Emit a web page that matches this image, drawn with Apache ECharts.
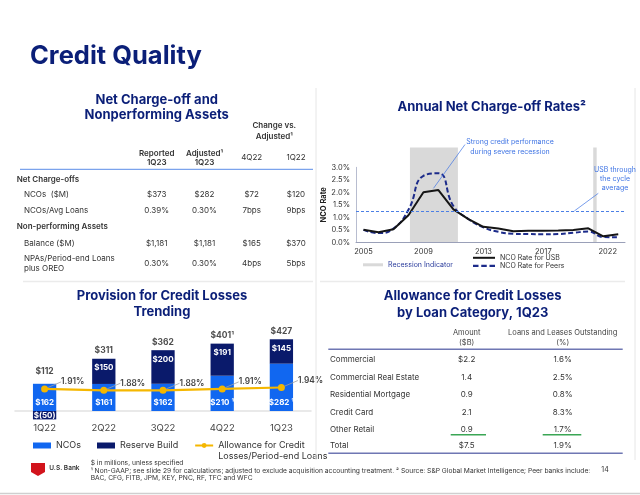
<!DOCTYPE html>
<html><head><meta charset="utf-8">
<script src="https://cdn.jsdelivr.net/npm/echarts@6/dist/echarts.min.js"></script>
<style>html,body{margin:0;padding:0;background:#fff;}#c{width:640px;height:495px;}</style>
</head><body><div id="c"></div>
<script>
// ---------- DATA ----------
// Annual net charge-off rates (%)
const ncoYears = [2005,2006,2007,2008,2009,2010,2011,2012,2013,2014,2015,2016,2017,2018,2019,2020,2021,2022];
const ncoUSB   = [0.50,0.40,0.52,1.08,2.00,2.09,1.32,0.93,0.62,0.55,0.44,0.46,0.46,0.47,0.49,0.56,0.24,0.32];
const ncoPeers = [0.50,0.37,0.55,1.30,2.66,2.76,1.45,0.93,0.60,0.42,0.34,0.33,0.32,0.33,0.38,0.43,0.21,0.20];
const usbCycleAverage = 1.26;
const recessionStart = [2008.1, 2020.33];
const recessionEnd   = [2011.3, 2020.56];
const xTickYears  = [2005, 2009, 2013, 2017, 2021.3];
const xTickLabels = ['2005', '2009', '2013', '2017', '2022'];

// Provision for credit losses ($M)
const quarters       = ['1Q22','2Q22','3Q22','4Q22','1Q23'];
const ncoBars        = [162, 161, 162, 210, 282];
const ncoNotes       = ['', '', '', '¹', '¹'];
const reserveBuild   = [-50, 150, 200, 191, 145];
const provisionTotal = [112, 311, 362, 401, 427];
const totalNotes     = ['', '', '', '¹', ''];
const allowanceRatio = [1.91, 1.88, 1.88, 1.91, 1.94];

// Net charge-off and nonperforming assets table
const ncoTableCols  = ['Reported\n1Q23', 'Adjusted¹\n1Q23', '4Q22', '1Q22'];
const ncoRowLabels  = ['NCOs  ($M)', 'NCOs/Avg Loans', 'Balance ($M)', 'NPAs/Period-end Loans\nplus OREO'];
const colReported   = ['$373', '0.39%', '$1,181', '0.30%'];
const colAdjusted   = ['$282', '0.30%', '$1,181', '0.30%'];
const colChg4Q22    = ['$72', '7bps', '$165', '4bps'];
const colChg1Q22    = ['$120', '9bps', '$370', '5bps'];

// Allowance by loan category table
const loanCategories  = ['Commercial', 'Commercial Real Estate', 'Residential Mortgage', 'Credit Card', 'Other Retail', 'Total'];
const allowanceAmount = ['$2.2', '1.4', '0.9', '2.1', '0.9', '$7.5'];
const allowancePct    = ['1.6%', '2.5%', '0.8%', '8.3%', '1.7%', '1.9%'];

// ---------- STYLE ----------
const FONT = 'Inter';
const NAVY = '#0b1f78';
const TXT = '#333';
const BLUE_BAR = '#1167f0';
const NAVY_BAR = '#0a1a6b';
const GOLD = '#f5b700';
const ANNO = '#3f74e4';

function T(x, y, text, o) {
  o = o || {};
  const st = {
    text: text, fill: o.color || TXT, fontSize: o.size || 8, fontWeight: o.weight || 'normal',
    fontFamily: FONT, align: o.align || 'left', verticalAlign: 'middle',
    textAlign: o.align || 'left', textVerticalAlign: 'middle'
  };
  if (o.lh) st.lineHeight = o.lh;
  return { type: 'text', x: x, y: y, silent: true, z: 10, style: st };
}
function L(x1, y1, x2, y2, color, w) {
  return { type: 'line', silent: true, z: 10, shape: { x1: x1, y1: y1, x2: x2, y2: y2 }, style: { stroke: color, lineWidth: w || 1 } };
}

const g = [];
// frame / separators
g.push(L(316, 88, 316, 460, '#e6e6e6', 1));
g.push(L(635, 88, 635, 460, '#e6e6e6', 1));
g.push(L(23, 281.5, 313, 281.5, '#ebebeb', 1.5));
g.push(L(320, 281.5, 625, 281.5, '#ebebeb', 1.5));
g.push(L(0, 493.5, 640, 493.5, '#cfcfcf', 1.5));

// main title
g.push(T(30, 56.5, 'Credit Quality', { size: 25.5, weight: 'bold', color: NAVY }));

// ---- top-left table ----
g.push(T(156.7, 107.5, 'Net Charge-off and\nNonperforming Assets', { size: 13, weight: 'bold', color: NAVY, align: 'center', lh: 15 }));
g.push(T(274.3, 131.2, 'Change vs.\nAdjusted¹', { size: 8, weight: 600, align: 'center', lh: 11 }));
const colX = [156.7, 204.5, 251.7, 296];
const colW = [600, 600, 'normal', 'normal'];
ncoTableCols.forEach((c, i) => g.push(T(colX[i], 158, c, { size: 8, weight: colW[i], align: 'center', lh: 9.5 })));
g.push(L(20, 169.3, 313, 169.3, '#5b8de8', 1));
g.push(T(16.7, 179.3, 'Net Charge-offs', { size: 8, weight: 600 }));
g.push(T(16.7, 226.7, 'Non-performing Assets', { size: 8, weight: 600 }));
const rowY = [195, 211, 243.3, 264];
const cols = [colReported, colAdjusted, colChg4Q22, colChg1Q22];
ncoRowLabels.forEach((lab, r) => {
  g.push(T(24, rowY[r], lab, { size: 8, lh: 10 }));
  cols.forEach((col, c) => g.push(T(colX[c], rowY[r], col[r], { size: 8, align: 'center' })));
});

// ---- line chart title & annotations ----
g.push(T(491.7, 106.7, 'Annual Net Charge-off Rates²', { size: 13, weight: 'bold', color: NAVY, align: 'center' }));
g.push(T(510, 147, 'Strong credit performance\nduring severe recession', { size: 7, color: ANNO, align: 'center', lh: 9.4 }));
g.push(L(465, 144.5, 433.5, 188.3, ANNO, 0.7));
g.push(T(615, 179, 'USB through\nthe cycle\naverage', { size: 7, color: ANNO, align: 'center', lh: 8.7 }));
g.push(L(598.3, 193.3, 574.3, 211, ANNO, 0.7));

// ---- bar chart title ----
g.push(T(162, 304, 'Provision for Credit Losses\nTrending', { size: 13, weight: 'bold', color: NAVY, align: 'center', lh: 16.3 }));

// ---- bottom-right table ----
g.push(T(472.7, 304.3, 'Allowance for Credit Losses\nby Loan Category, 1Q23', { size: 13, weight: 'bold', color: NAVY, align: 'center', lh: 16.7 }));
g.push(T(466.7, 337.5, 'Amount\n($B)', { size: 7.5, color: '#444', align: 'center', lh: 9.6 }));
g.push(T(562.7, 337.5, 'Loans and Leases Outstanding\n(%)', { size: 7.5, color: '#444', align: 'center', lh: 9.6 }));
g.push(L(328.3, 349.3, 622.7, 349.3, '#6f77b3', 1.5));
g.push(L(328.3, 453.3, 622.7, 453.3, '#6f77b3', 1.5));
const allowRowY = [360, 377.7, 395, 412.3, 429.3, 446];
loanCategories.forEach((lab, r) => {
  g.push(T(330, allowRowY[r], lab, { size: 8 }));
  g.push(T(466.7, allowRowY[r], allowanceAmount[r], { size: 8, align: 'center' }));
  g.push(T(562.7, allowRowY[r], allowancePct[r], { size: 8, align: 'center' }));
});
g.push(L(450.7, 434.8, 486, 434.8, '#3aa655', 1.5));
g.push(L(542.7, 434.8, 581.3, 434.8, '#3aa655', 1.5));

// ---- footer ----
g.push({ type: 'polygon', silent: true, shape: { points: [[31, 463], [45, 463], [45, 472], [38, 476], [31, 472]] }, style: { fill: '#d2141c' } });
g.push(T(49.3, 468.5, 'U.S. Bank', { size: 6.5, weight: 600, color: '#333' }));
g.push(T(90.7, 463.3, '$ in millions, unless specified', { size: 6.7, color: '#333' }));
g.push(T(90.7, 470.7, '¹ Non-GAAP; see slide 29 for calculations; adjusted to exclude acquisition accounting treatment. ² Source: S&P Global Market Intelligence; Peer banks include:', { size: 6.7, color: '#333' }));
g.push(T(90.7, 477.9, 'BAC, CFG, FITB, JPM, KEY, PNC, RF, TFC and WFC', { size: 6.7, color: '#333' }));
g.push(T(605, 470, '14', { size: 7, color: '#333', align: 'center' }));

// ---------- CHART ----------
const chart = echarts.init(document.getElementById('c'), null, { renderer: 'canvas' });
const allowName = 'Allowance for Credit Losses/Period-end Loans';
const ICON_SOLID = 'path://M0,0H22V2H0Z';
const ICON_DASH = 'path://M0,0H5V2H0Z M7.5,0H12.5V2H7.5Z M15,0H20V2H15Z';

const option = {
  backgroundColor: '#fff',
  animation: false,
  textStyle: { fontFamily: FONT },
  grid: [
    { left: 356, top: 167.3, width: 269, height: 75, containLabel: false, outerBoundsMode: 'none' },
    { left: 356, top: 147.5, width: 269, height: 94.8, containLabel: false, outerBoundsMode: 'none' },
    { left: 15, top: 327, width: 296, height: 92.4, containLabel: false, outerBoundsMode: 'none' }
  ],
  xAxis: [
    { gridIndex: 0, type: 'value', min: 2004.5, max: 2022.45,
      axisLine: { show: true, lineStyle: { color: '#9aa0b8', width: 1 } },
      axisTick: { show: false }, splitLine: { show: false },
      axisLabel: { customValues: xTickYears, fontSize: 7.5, color: '#333', margin: 5,
        formatter: v => { const i = xTickYears.indexOf(v); return i >= 0 ? xTickLabels[i] : ''; } } },
    { gridIndex: 1, type: 'value', min: 2004.5, max: 2022.45, show: false },
    { gridIndex: 2, type: 'category', data: quarters,
      axisLine: { show: true, onZero: true, lineStyle: { color: '#e2e2e2', width: 1.5 } },
      axisTick: { show: false },
      axisLabel: { fontSize: 9.5, color: '#444', margin: 4 } }
  ],
  yAxis: [
    { gridIndex: 0, type: 'value', min: 0, max: 3, interval: 0.5,
      name: 'NCO Rate', nameLocation: 'middle', nameGap: 24, nameRotate: 90,
      nameTextStyle: { fontSize: 7.5, fontWeight: 'bold', color: '#222' },
      axisLine: { show: true, lineStyle: { color: '#b8bdd0', width: 1 } },
      axisTick: { show: false }, splitLine: { show: false },
      axisLabel: { fontSize: 7.5, color: '#333', margin: 6, formatter: v => v.toFixed(1) + '%' } },
    { gridIndex: 1, type: 'value', min: 0, max: 1, show: false },
    { gridIndex: 2, type: 'value', min: -50, max: 500, show: false },
    { gridIndex: 2, type: 'value', min: 1.25, max: 3.25, show: false }
  ],
  legend: [
    { data: [{ name: 'NCO Rate for USB', icon: ICON_SOLID }, { name: 'NCO Rate for Peers', icon: ICON_DASH }],
      orient: 'vertical', left: 473, top: 254.3,
      padding: 0, itemWidth: 22, itemHeight: 10, itemGap: 1, selectedMode: false,
      textStyle: { fontSize: 7, color: '#333', fontFamily: FONT } },
    { data: [{ name: 'Recession Indicator', icon: 'rect', itemStyle: { color: '#d9d9d9' } }],
      left: 363, top: 261.3, padding: 0, itemWidth: 20, itemHeight: 3, selectedMode: false,
      textStyle: { fontSize: 7, color: '#2a3c9c', fontFamily: FONT } },
    { data: [{ name: 'NCOs', icon: 'rect' }, { name: 'Reserve Build', icon: 'rect' }, { name: allowName }],
      left: 33, top: 429, padding: 0, itemWidth: 18, itemHeight: 6, itemGap: 16, selectedMode: false,
      formatter: n => n === allowName ? '\nAllowance for Credit\nLosses/Period-end Loans' : n,
      textStyle: { fontSize: 9, color: '#333', lineHeight: 11, fontFamily: FONT } }
  ],
  series: [
    { name: 'Recession Indicator', type: 'custom', xAxisIndex: 1, yAxisIndex: 1, z: 0, silent: true,
      itemStyle: { color: '#d9d9d9' },
      data: recessionStart.map((s, i) => [s, recessionEnd[i]]),
      encode: { x: [0, 1] },
      renderItem: (params, api) => {
        const p0 = api.coord([api.value(0), 1]);
        const p1 = api.coord([api.value(1), 0]);
        return { type: 'rect', shape: { x: p0[0], y: p0[1], width: p1[0] - p0[0], height: p1[1] - p0[1] },
                 style: { fill: '#d9d9d9' } };
      } },
    { name: 'NCO Rate for Peers', type: 'line', xAxisIndex: 0, yAxisIndex: 0, z: 3,
      data: ncoYears.map((y, i) => [y, ncoPeers[i]]), smooth: 0.5, showSymbol: false, symbol: 'none',
      lineStyle: { color: '#1c2b8a', width: 2, type: [5, 2.5] }, itemStyle: { color: '#1c2b8a' } },
    { name: 'NCO Rate for USB', type: 'line', xAxisIndex: 0, yAxisIndex: 0, z: 4,
      data: ncoYears.map((y, i) => [y, ncoUSB[i]]), showSymbol: false, symbol: 'none',
      lineStyle: { color: '#151515', width: 2 }, itemStyle: { color: '#151515' },
      markLine: { silent: true, symbol: 'none', label: { show: false },
        lineStyle: { type: [3, 2], color: '#4b7fe6', width: 1 },
        data: [{ yAxis: usbCycleAverage }] } },
    { name: 'NCOs', type: 'bar', xAxisIndex: 2, yAxisIndex: 2, stack: 'prov', barWidth: 23.3,
      itemStyle: { color: BLUE_BAR }, data: ncoBars,
      label: { show: true, position: 'insideBottom', distance: 4, color: '#fff', fontSize: 8, fontWeight: 'bold',
        formatter: p => '$' + ncoBars[p.dataIndex] + (ncoNotes[p.dataIndex] ? ' ' + ncoNotes[p.dataIndex] : '') } },
    { name: 'Reserve Build', type: 'bar', xAxisIndex: 2, yAxisIndex: 2, stack: 'prov', barWidth: 23.3,
      itemStyle: { color: NAVY_BAR },
      data: reserveBuild.map(v => ({ value: v, label: { position: v < 0 ? 'inside' : 'insideTop' } })),
      label: { show: true, distance: 5, color: '#fff', fontSize: 8, fontWeight: 'bold',
        formatter: p => p.value < 0 ? '$(' + (-p.value) + ')' : '$' + p.value } },
    { name: 'Total', type: 'scatter', xAxisIndex: 2, yAxisIndex: 2, symbolSize: 1, silent: true,
      itemStyle: { color: 'transparent' },
      data: ncoBars.map((v, i) => ({ value: v + Math.max(reserveBuild[i], 0),
        label: { offset: [0, reserveBuild[i] < 0 ? -4 : 0] } })),
      label: { show: true, position: 'top', distance: 3, color: '#222', fontSize: 8.5, fontWeight: 'bold',
        formatter: p => '$' + provisionTotal[p.dataIndex] + totalNotes[p.dataIndex] } },
    { name: allowName, type: 'line', xAxisIndex: 2, yAxisIndex: 3, z: 5,
      data: allowanceRatio, symbol: 'circle', symbolSize: 7,
      lineStyle: { color: GOLD, width: 2.2 }, itemStyle: { color: GOLD },
      label: { show: true, position: 'right', distance: 5, color: '#444', fontSize: 8.3, fontWeight: 600,
        formatter: p => p.value.toFixed(2) + '%' },
      labelLayout: { dx: 8, dy: -7 },
      labelLine: { show: true, lineStyle: { color: '#a0a0a0', width: 0.8 } } }
  ],
  graphic: { elements: g }
};
chart.setOption(option);
</script></body></html>
